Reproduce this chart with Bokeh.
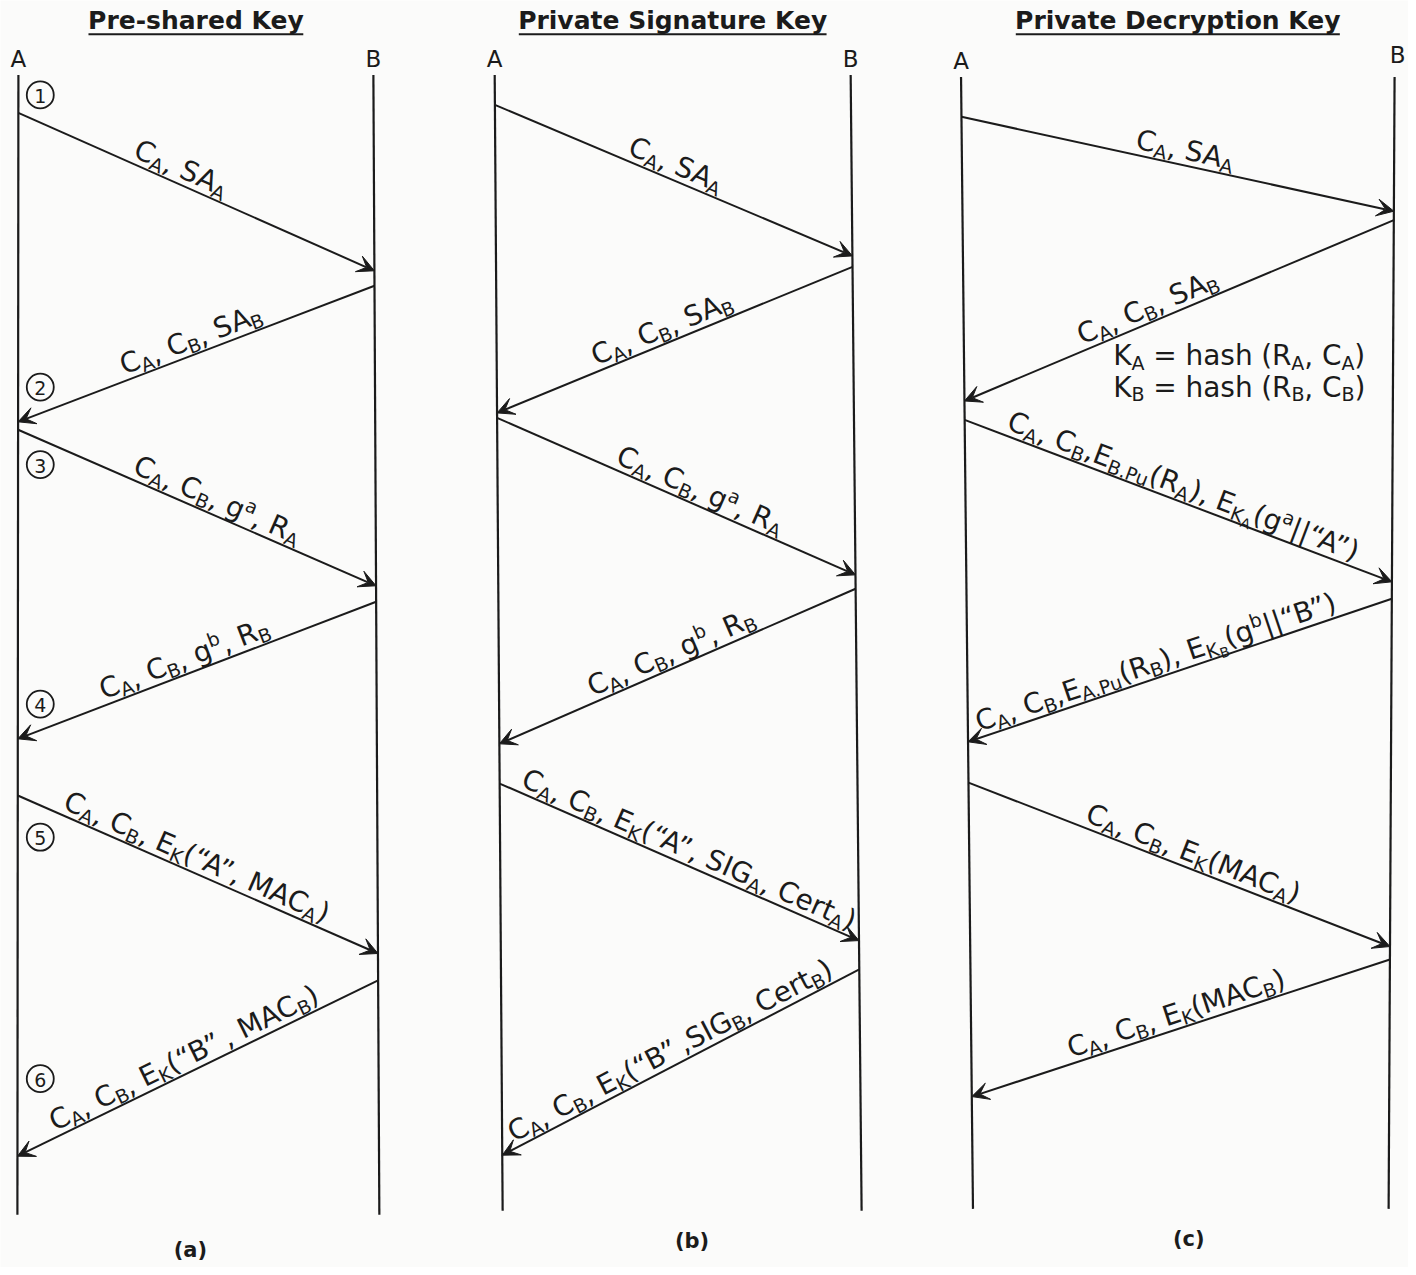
import math
import re
from bokeh.plotting import figure
from bokeh.models import ColumnDataSource, Arrow, VeeHead, Range1d
from bokeh.core.properties import value
from bokeh.embed import file_html
from bokeh.resources import INLINE

# ---------------- data ----------------
panel_titles = ["Pre-shared Key", "Private Signature Key", "Private Decryption Key"]
panel_tags = ["(a)", "(b)", "(c)"]
party_names = ["A", "B"]

# lifelines (the photographed page is slightly skewed, so top / bottom x differ)
life_top = [75, 75, 77]
life_bot = [1222, 1218, 1216]
a_x_top = [18, 497, 966]
a_x_bot = [17, 505, 978]
b_x_top = [375, 855, 1402]
b_x_bot = [381, 866, 1396]

# messages: panel, direction, send time, receive time (vertical position on lifelines)
msg_panel = [0, 0, 0, 0, 0, 0, 1, 1, 1, 1, 1, 1, 2, 2, 2, 2, 2, 2]
msg_dir = ["AB", "BA", "AB", "BA", "AB", "BA"] * 3
msg_send = [113, 287, 432, 605, 800, 986,
            105, 268, 420, 592, 788, 975,
            117, 221, 422, 602, 787, 965]
msg_recv = [272, 424, 589, 743, 959, 1163,
            257, 415, 578, 748, 946, 1162,
            212, 403, 585, 746, 952, 1103]
msg_labels = [
    "C_{A}, SA_{A}",
    "C_{A}, C_{B}, SA_{B}",
    "C_{A}, C_{B}, g^{a}, R_{A}",
    "C_{A}, C_{B}, g^{b}, R_{B}",
    "C_{A}, C_{B}, E_{K}(“A”, MAC_{A})",
    "C_{A}, C_{B}, E_{K}(“B” , MAC_{B})",
    "C_{A}, SA_{A}",
    "C_{A}, C_{B}, SA_{B}",
    "C_{A}, C_{B}, g^{a}, R_{A}",
    "C_{A}, C_{B}, g^{b}, R_{B}",
    "C_{A}, C_{B}, E_{K}(“A”, SIG_{A}, Cert_{A})",
    "C_{A}, C_{B}, E_{K}(“B” ,SIG_{B}, Cert_{B})",
    "C_{A}, SA_{A}",
    "C_{A}, C_{B}, SA_{B}",
    "C_{A}, C_{B},E_{B.Pu}(R_{A}), E_{K_{A}}(g^{a}||“A”)",
    "C_{A}, C_{B},E_{A.Pu}(R_{B}), E_{K_{B}}(g^{b}||“B”)",
    "C_{A}, C_{B}, E_{K}(MAC_{A})",
    "C_{A}, C_{B}, E_{K}(MAC_{B})",
]
label_frac = [0.44, 0.50, 0.54, 0.48, 0.48, 0.48,
              0.49, 0.48, 0.55, 0.50, 0.51, 0.49,
              0.51, 0.44, 0.50, 0.45, 0.52, 0.50]

# step markers (panel a)
step_numbers = ["1", "2", "3", "4", "5", "6"]
step_y = [95, 389, 467, 708, 842, 1085]

# key-derivation note (panel c)
note_lines = ["K_{A} = hash (R_{A}, C_{A})", "K_{B} = hash (R_{B}, C_{B})"]

# ---------------- styling / layout ----------------
INK = "#1b1b1b"
FONT = "DejaVu Sans"
MAIN = 28
STYLE = {"n": (MAIN, 0.0), "sub": (19, 4.0), "sup": (19, -11.0), "sub2": (14, 8.0)}
MID = 0.346  # distance (em) from alphabetic baseline up to the "middle" anchor

W_REG = {" ": 318, ",": 318, ".": 318, "(": 390, ")": 390, "\"": 460, "“": 410, "”": 410,
         "=": 838, "|": 337, "A": 684, "B": 686, "C": 698, "E": 632, "G": 775, "I": 295,
         "K": 656, "M": 863, "P": 603, "R": 695, "S": 635, "a": 613, "b": 635, "e": 615,
         "g": 635, "h": 634, "r": 411, "s": 521, "t": 392, "u": 634}
W_BOLD = {" ": 348, "-": 415, "P": 733, "r": 493, "e": 678, "s": 595, "h": 712, "a": 675,
          "d": 716, "K": 775, "y": 652, "i": 343, "v": 652, "t": 478, "S": 720, "g": 716,
          "n": 712, "u": 712, "D": 830, "c": 593, "p": 716, "o": 687}


def text_w(s, size, table=W_REG):
    return sum(table.get(c, 600) for c in s) * size / 1000.0


def parse(markup):
    segs, stack, buf, i = [], ["n"], "", 0
    while i < len(markup):
        ch = markup[i]
        if ch in "_^" and i + 1 < len(markup) and markup[i + 1] == "{":
            if buf:
                segs.append((buf, stack[-1]))
                buf = ""
            cur = stack[-1]
            new = ("sub2" if cur == "sub" else "sub") if ch == "_" else "sup"
            stack.append(new)
            i += 2
            continue
        if ch == "}":
            if buf:
                segs.append((buf, stack[-1]))
                buf = ""
            stack.pop()
            i += 1
            continue
        buf += ch
        i += 1
    if buf:
        segs.append((buf, stack[-1]))
    return segs


def seg_total(segs):
    return sum(text_w(t, STYLE[s][0]) for t, s in segs)


out = {k: dict(x=[], y=[], text=[], angle=[]) for k in STYLE}


def place(segs, sx, sy, ux, uy):
    """sx, sy: start of the baseline; (ux, uy): unit direction in screen space."""
    ang = math.atan2(-uy, ux)
    dx, dy = -uy, ux          # local "down"
    upx, upy = uy, -ux        # local "up"
    cur = 0.0
    for t, s in segs:
        size, off = STYLE[s]
        for m in re.finditer(r"[^ ]+", t):
            word = m.group(0)
            c = cur + text_w(t[:m.start()], size)
            bx = sx + c * ux + off * dx
            by = sy + c * uy + off * dy
            d = out[s]
            d["x"].append(bx + MID * size * upx)
            d["y"].append(by + MID * size * upy)
            d["text"].append(word)
            d["angle"].append(ang)
        cur += text_w(t, size)


def life_x(xt, xb, top, bot, y):
    return xt + (xb - xt) * (y - top) / (bot - top)


# ---------------- figure ----------------
p = figure(width=1408, height=1267, x_range=Range1d(0, 1416), y_range=Range1d(1275, 0),
           output_backend="svg", toolbar_location=None, min_border=0)
p.axis.visible = False
p.grid.visible = False
p.outline_line_color = None
p.background_fill_color = "#fbfbfa"
p.border_fill_color = "#fbfbfa"

# lifelines
lx0, ly0, lx1, ly1 = [], [], [], []
for k in range(3):
    for xt, xb in ((a_x_top[k], a_x_bot[k]), (b_x_top[k], b_x_bot[k])):
        lx0.append(xt); ly0.append(life_top[k]); lx1.append(xb); ly1.append(life_bot[k])
p.segment(x0=lx0, y0=ly0, x1=lx1, y1=ly1, line_color=INK, line_width=2.2)

# party names
nx, ny, nt = [], [], []
for k in range(3):
    nx += [a_x_top[k], b_x_top[k] + (3 if k == 2 else 0)]
    base = life_top[k] - 8
    ny += [base - MID * 23, base - (6 if k == 2 else 0) - MID * 23]
    nt += party_names
p.text(x=nx, y=ny, text=nt, text_font=value(FONT), text_font_size="23px", text_color=INK,
       text_align="center", text_baseline="middle")

# titles + underline
tx, tt, ux0, ux1 = [], [], [], []
for k in range(3):
    cx = (a_x_top[k] + b_x_top[k]) / 2.0
    tx.append(cx)
    tt.append(panel_titles[k])
    w = text_w(panel_titles[k], 25, W_BOLD)
    ux0.append(cx - w / 2); ux1.append(cx + w / 2)
p.text(x=tx, y=[29 - MID * 25] * 3, text=tt, text_font=value(FONT), text_font_style="bold",
       text_font_size="25px", text_color=INK, text_align="center", text_baseline="middle")
p.segment(x0=ux0, y0=[34] * 3, x1=ux1, y1=[34] * 3, line_color=INK, line_width=2)

# panel tags
tag_x = [(a_x_bot[k] + b_x_bot[k]) / 2.0 for k in range(3)]
tag_x = [tag_x[0] - 8, tag_x[1] + 10, tag_x[2] + 8]
p.text(x=tag_x, y=[1257, 1248, 1246], text=panel_tags, text_font=value(FONT),
       text_font_style="bold", text_font_size="21px", text_color=INK, text_align="center",
       text_baseline="middle")

# messages
asrc = dict(x0=[], y0=[], x1=[], y1=[])
for i in range(len(msg_panel)):
    k = msg_panel[i]
    ax = lambda y: life_x(a_x_top[k], a_x_bot[k], life_top[k], life_bot[k], y)
    bx = lambda y: life_x(b_x_top[k], b_x_bot[k], life_top[k], life_bot[k], y)
    if msg_dir[i] == "AB":
        sx, sy, ex, ey = ax(msg_send[i]), msg_send[i], bx(msg_recv[i]), msg_recv[i]
        L, R = (sx, sy), (ex, ey)
    else:
        sx, sy, ex, ey = bx(msg_send[i]), msg_send[i], ax(msg_recv[i]), msg_recv[i]
        L, R = (ex, ey), (sx, sy)
    asrc["x0"].append(sx); asrc["y0"].append(sy); asrc["x1"].append(ex); asrc["y1"].append(ey)
    ddx, ddy = R[0] - L[0], R[1] - L[1]
    ln = math.hypot(ddx, ddy)
    uxv, uyv = ddx / ln, ddy / ln
    segs = parse(msg_labels[i])
    W = seg_total(segs)
    f = label_frac[i]
    cx, cy = L[0] + f * ddx, L[1] + f * ddy
    gap = 6.0
    upx, upy = uyv, -uxv
    place(segs, cx - W / 2 * uxv + gap * upx, cy - W / 2 * uyv + gap * upy, uxv, uyv)

asource = ColumnDataSource(asrc)
p.add_layout(Arrow(end=VeeHead(size=17, fill_color=INK, line_color=INK, line_width=1),
                   x_start="x0", y_start="y0", x_end="x1", y_end="y1", source=asource,
                   line_color=INK, line_width=2))

# key-derivation note
for j, line in enumerate(note_lines):
    place(parse(line), 1119, 367 + 32 * j, 1.0, 0.0)

for s, d in out.items():
    if not d["x"]:
        continue
    p.text(x="x", y="y", text="text", angle="angle", source=ColumnDataSource(d),
           text_font=value(FONT), text_font_size=f"{STYLE[s][0]}px", text_color=INK,
           text_align="left", text_baseline="middle")

# step markers
step_x = [a_x_top[0] + 22] * len(step_y)
p.scatter(x=step_x, y=step_y, marker="circle", size=27, fill_color=None, line_color=INK,
          line_width=1.8)
p.text(x=step_x, y=[y + 1 for y in step_y], text=step_numbers, text_font=value(FONT),
       text_font_size="19px", text_color=INK, text_align="center", text_baseline="middle")

open("out.html", "w").write(file_html(p, INLINE))
